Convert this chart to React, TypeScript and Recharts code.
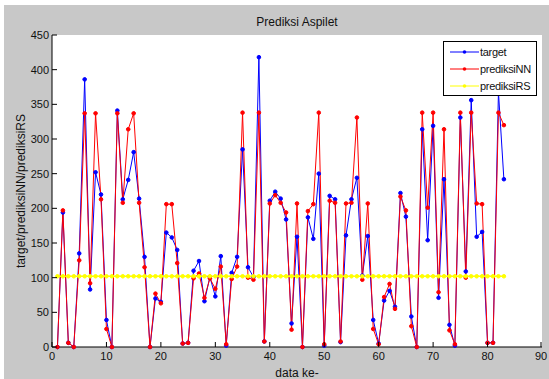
import React from 'react';
import { LineChart, Line, XAxis, YAxis, CartesianGrid, Legend } from 'recharts';

// values, one per "data ke-" (1..83)
const target = [
  0, 194, 6, 0, 135, 386, 83, 252, 220, 39,
  0, 341, 213, 241, 281, 214, 130, 0, 70, 65,
  165, 158, 140, 5, 6, 110, 124, 66, 101, 73,
  131, 2, 107, 130, 285, 115, 101, 418, 8, 211,
  224, 214, 184, 34, 159, 0, 187, 156, 250, 2,
  218, 213, 7, 161, 213, 244, 103, 160, 39, 5,
  67, 81, 58, 222, 188, 44, 0, 314, 154, 319,
  71, 242, 32, 2, 331, 109, 356, 159, 166, 6,
  6, 368, 242,
];

const prediksiNN = [
  0, 197, 6, 0, 125, 337, 92, 337, 213, 26,
  0, 337, 208, 314, 337, 208, 115, 0, 77, 63,
  206, 206, 121, 5, 6, 99, 106, 71, 99, 84,
  116, 4, 98, 116, 338, 100, 97, 338, 8, 207,
  219, 208, 194, 25, 207, 0, 196, 206, 338, 4,
  211, 208, 8, 207, 208, 331, 97, 207, 26, 4,
  72, 91, 55, 217, 197, 30, 0, 338, 201, 338,
  79, 314, 24, 4, 338, 100, 338, 207, 206, 6,
  6, 338, 320,
];

const prediksiRS = [
  102, 102, 102, 102, 102, 102, 102, 102, 102, 102,
  102, 102, 102, 102, 102, 102, 102, 102, 102, 102,
  102, 102, 102, 102, 102, 102, 102, 102, 102, 102,
  102, 102, 102, 102, 102, 102, 102, 102, 102, 102,
  102, 102, 102, 102, 102, 102, 102, 102, 102, 102,
  102, 102, 102, 102, 102, 102, 102, 102, 102, 102,
  102, 102, 102, 102, 102, 102, 102, 102, 102, 102,
  102, 102, 102, 102, 102, 102, 102, 102, 102, 102,
  102, 102, 102,
];

const seriesOrder = ['target', 'prediksiNN', 'prediksiRS'];
const xTicks = [0, 10, 20, 30, 40, 50, 60, 70, 80, 90];
const yTicks = [0, 50, 100, 150, 200, 250, 300, 350, 400, 450];

const data = target.map((t, i) => ({
  dataKe: i + 1,
  target: t,
  prediksiNN: prediksiNN[i],
  prediksiRS: prediksiRS[i],
}));

const FONT = '"Liberation Sans", Arial, sans-serif';
const INK = '#111';

// MATLAB style ticks: drawn inward, labels outside
const BottomTick = (props: any) => {
  const { x, y, payload } = props;
  return (
    <g>
      <line x1={x} y1={y} x2={x} y2={y - 5} stroke="#000" />
      <text x={x} y={y + 13} textAnchor="middle" fontSize={11} fontFamily={FONT} fill={INK}>
        {payload.value}
      </text>
    </g>
  );
};

const LeftTick = (props: any) => {
  const { x, y, payload } = props;
  return (
    <g>
      <line x1={x} y1={y} x2={x + 5} y2={y} stroke="#000" />
      <text x={x - 3} y={y + 4} textAnchor="end" fontSize={11} fontFamily={FONT} fill={INK}>
        {payload.value}
      </text>
    </g>
  );
};

const TopTick = (props: any) => {
  const { x, y } = props;
  return <line x1={x} y1={y} x2={x} y2={y + 5} stroke="#000" />;
};

const RightTick = (props: any) => {
  const { x, y } = props;
  return <line x1={x} y1={y} x2={x - 5} y2={y} stroke="#000" />;
};

const renderLegend = (props: any) => {
  const items = [...(props.payload || [])].sort(
    (a: any, b: any) => seriesOrder.indexOf(a.value) - seriesOrder.indexOf(b.value)
  );
  return (
    <div
      style={{
        border: '1px solid #000',
        background: '#fff',
        width: 92,
        padding: '1px 0 1px 0',
        fontFamily: FONT,
        fontSize: 11,
        letterSpacing: -0.3,
        color: INK,
      }}
    >
      {items.map((item: any) => (
        <div key={item.value} style={{ display: 'flex', alignItems: 'center', height: 17 }}>
          <svg width={36} height={10} style={{ flex: 'none' }}>
            <line x1={6} y1={5} x2={35} y2={5} stroke={item.color} />
            <circle cx={20.5} cy={5} r={1.8} fill={item.color} />
          </svg>
          <span>{item.value}</span>
        </div>
      ))}
    </div>
  );
};

const App: React.FC = () => {
  return (
    <div style={{ width: 549, height: 379, background: '#fff', position: 'relative' }}>
      <style>{'body { margin: 0; }'}</style>
      <div style={{ position: 'absolute', left: 4, top: 5, width: 545, height: 374, background: '#c8c8c8' }}>
        <div
          style={{
            position: 'absolute',
            left: 48,
            width: 490,
            top: 10,
            textAlign: 'center',
            fontFamily: FONT,
            fontSize: 12,
            lineHeight: '15px',
            color: INK,
          }}
        >
          Prediksi Aspilet
        </div>
        <LineChart width={545} height={374} data={data} margin={{ top: 30, right: 7, bottom: 0, left: 0 }}>
          <CartesianGrid horizontal={false} vertical={false} fill="#fff" />
          <XAxis
            dataKey="dataKe"
            type="number"
            domain={[0, 90]}
            ticks={xTicks}
            height={32}
            tickSize={0}
            tickMargin={0}
            tickLine={false}
            tick={BottomTick}
            axisLine={{ stroke: '#000' }}
            label={{ value: 'data ke-', position: 'insideBottom', offset: 2, fontSize: 12, fontFamily: FONT, fill: INK }}
          />
          <XAxis
            xAxisId="top"
            orientation="top"
            type="number"
            domain={[0, 90]}
            ticks={xTicks}
            height={0}
            tickSize={0}
            tickMargin={0}
            tickLine={false}
            tick={TopTick}
            axisLine={{ stroke: '#000' }}
          />
          <YAxis
            type="number"
            domain={[0, 450]}
            ticks={yTicks}
            width={48}
            tickSize={0}
            tickMargin={0}
            tickLine={false}
            tick={LeftTick}
            axisLine={{ stroke: '#000' }}
            label={{
              value: 'target/prediksiNN/prediksiRS',
              angle: -90,
              position: 'insideLeft',
              offset: 17,
              textAnchor: 'middle',
              fontSize: 12,
              fontFamily: FONT,
              fill: INK,
            }}
          />
          <YAxis
            yAxisId="right"
            orientation="right"
            type="number"
            domain={[0, 450]}
            ticks={yTicks}
            width={0}
            tickSize={0}
            tickMargin={0}
            tickLine={false}
            tick={RightTick}
            axisLine={{ stroke: '#000' }}
          />
          <Legend
            content={renderLegend}
            layout="horizontal"
            verticalAlign="middle"
            align="center"
            wrapperStyle={{ left: 439, top: 36, width: 95 }}
          />
          <Line
            dataKey="target"
            name="target"
            stroke="#0000ff"
            strokeWidth={1}
            dot={{ r: 1.8, fill: '#0000ff', stroke: '#0000ff', strokeWidth: 1 }}
            isAnimationActive={false}
          />
          <Line
            dataKey="prediksiNN"
            name="prediksiNN"
            stroke="#ff0000"
            strokeWidth={1}
            dot={{ r: 1.8, fill: '#ff0000', stroke: '#ff0000', strokeWidth: 1 }}
            isAnimationActive={false}
          />
          <Line
            dataKey="prediksiRS"
            name="prediksiRS"
            stroke="#ffff00"
            strokeWidth={1.5}
            dot={{ r: 1.8, fill: '#ffff00', stroke: '#ffff00', strokeWidth: 1 }}
            isAnimationActive={false}
          />
        </LineChart>
      </div>
    </div>
  );
};

export default App;
